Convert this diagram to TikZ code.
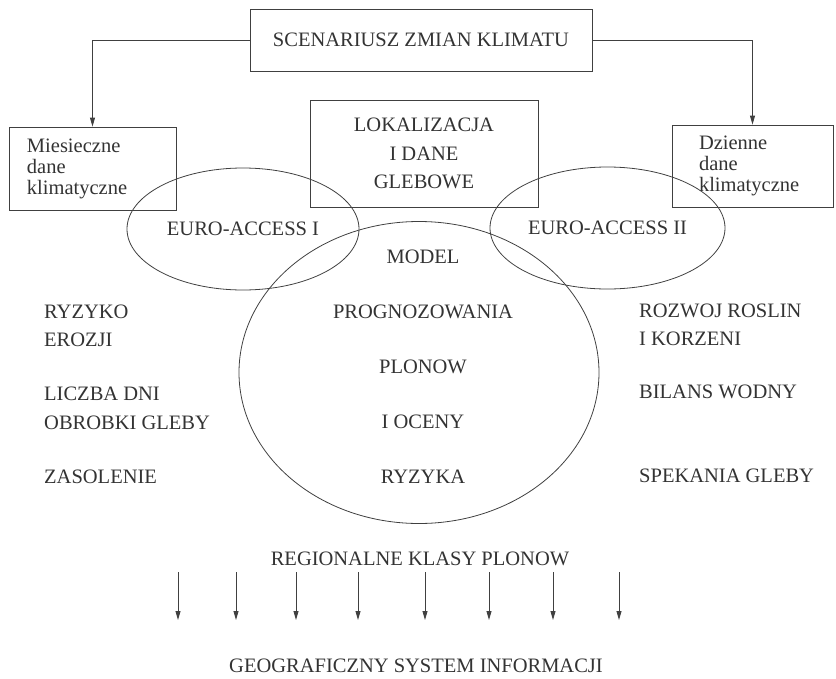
\documentclass[tikz,border=0pt]{standalone}
\usepackage{fontspec}
\setmainfont{Liberation Serif}
\usepackage{tikz}
\usetikzlibrary{arrows.meta,shapes.geometric}

\begin{document}
\begin{tikzpicture}[
  x=1pt, y=-1pt,
  every node/.style={text=black!80},
  box/.style={
    rectangle, draw=black!75, line width=0.8pt, inner sep=0pt,
    align=center, font=\fontsize{20.5}{28.5}\selectfont
  },
  databox/.style={
    rectangle, draw=black!75, line width=0.8pt, inner ysep=0pt,
    align=left, font=\fontsize{20.5}{21}\selectfont
  },
  oval/.style={ellipse, draw=black!75, line width=0.8pt, inner sep=0pt,
    font=\fontsize{20.5}{28}\selectfont},
  sidetext/.style={font=\fontsize{20.5}{28.5}\selectfont, align=left,
    inner sep=0pt, anchor=west},
  arrow/.style={-{Triangle[length=9pt,width=5pt]}, line width=0.8pt, draw=black!75}
]

\useasboundingbox (0,0) rectangle (836,678);

% Top box and the two data boxes
\node[box, minimum width=342pt, minimum height=62pt]
  (scen) at (421,40) {SCENARIUSZ ZMIAN KLIMATU};
\node[box, minimum width=228pt, minimum height=107pt]
  (lok) at (424,153.5) {LOKALIZACJA\\I DANE\\GLEBOWE};
\node[databox, text width=131pt, inner xsep=18pt, minimum height=83pt]
  (mies) at (92.5,168.5) {Miesieczne\\dane\\klimatyczne};
\node[databox, text width=107pt, inner xsep=27pt, minimum height=82pt]
  (dzien) at (752.5,166) {Dzienne\\dane\\klimatyczne};

% Ovals
\node[oval, minimum width=232pt, minimum height=122pt]
  (euro1) at (243,229) {EURO-ACCESS I};
\node[oval, minimum width=235pt, minimum height=122pt]
  (euro2) at (607.5,228) {EURO-ACCESS II};
\node[oval, minimum width=360pt, minimum height=302pt]
  (ring) at (419,372.5) {};
\node[font=\fontsize{20.5}{55}\selectfont, align=center, inner sep=0pt]
  (model) at (423,367) {MODEL\\PROGNOZOWANIA\\PLONOW\\I OCENY\\RYZYKA};

% Side texts
\node[sidetext] (erozja) at (44,326) {RYZYKO\\EROZJI};
\node[sidetext] (dni) at (44,408.5) {LICZBA DNI\\OBROBKI GLEBY};
\node[sidetext] (zasol) at (44,477) {ZASOLENIE};
\node[sidetext] (rozwoj) at (639,325) {ROZWOJ ROSLIN\\I KORZENI};
\node[sidetext] (bilans) at (639,392) {BILANS WODNY};
\node[sidetext] (spek) at (639,476) {SPEKANIA GLEBY};

% Bottom texts
\node[sidetext, anchor=center] (klasy) at (420,559) {REGIONALNE KLASY PLONOW};
\node[sidetext, anchor=center] (gis) at (416,666) {GEOGRAFICZNY SYSTEM INFORMACJI};

% Arrows from the scenario box
\draw[arrow] (scen.west) -| (mies.north);
\draw[arrow] (scen.east) -| (dzien.north);

% Arrows down to the GIS
\foreach \x [count=\i] in {178,236,296,358,425,489,553,619} {
  \coordinate (top\i) at (\x,572);
  \coordinate (tip\i) at (\x,620);
  \draw[arrow] (top\i) -- (tip\i);
}

\end{tikzpicture}
\end{document}
